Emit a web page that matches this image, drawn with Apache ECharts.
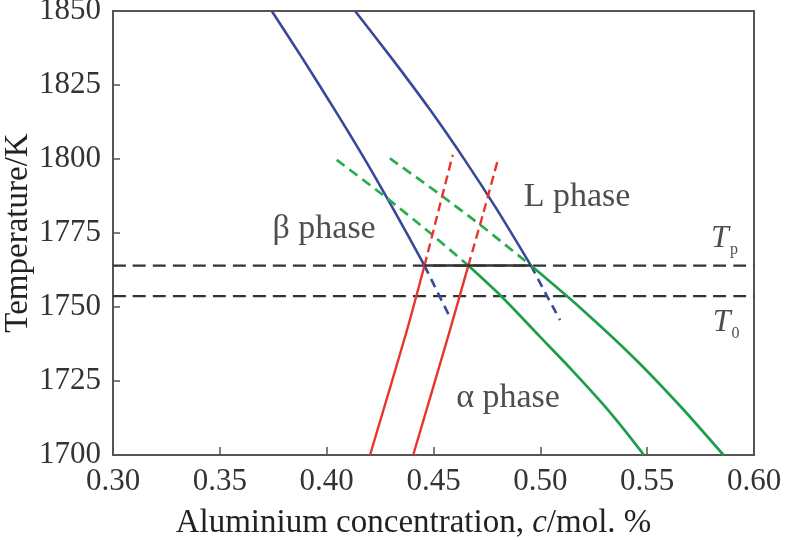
<!DOCTYPE html>
<html><head><meta charset="utf-8">
<script src="https://cdn.jsdelivr.net/npm/echarts@6/dist/echarts.min.js"></script>
<style>html,body{margin:0;padding:0;background:#fff}#c{width:786px;height:540px}</style>
</head><body><div id="c"></div>
<script>
// axis ranges / ticks
const xMin = 0.30, xMax = 0.60, xStep = 0.05;
const yMin = 1700, yMax = 1850, yStep = 25;
// isotherms
const Tp = 1764, T0 = 1753.7;
const tieLine = [[0.4458, 1764], [0.4956, 1764]];
// beta phase boundary (blue, left)
const betaSolid = [[0.3743,1850],[0.3892,1833.4],[0.4038,1816.6],[0.4180,1799.7],[0.4314,1782.8],[0.4458,1764]];
const betaDash = [[0.4458,1764],[0.4521,1754.7],[0.4582,1745.8]];
// liquidus (blue, right)
const liqSolid = [[0.4133,1850],[0.4311,1833.4],[0.4484,1816.6],[0.4646,1799.7],[0.4798,1782.8],[0.4956,1764]];
const liqDash = [[0.4956,1764],[0.5024,1754.7],[0.5092,1745.6]];
// green lower
const gLowDash = [[0.4047,1799.7],[0.4264,1787.8],[0.4486,1774.9],[0.4663,1764]];
const gLowSolid = [[0.4663,1764],[0.4816,1753.7],[0.4998,1740],[0.5148,1728.7],[0.5289,1717.5],[0.5394,1708.4],[0.5485,1700]];
// green upper
const gUpDash = [[0.4296,1800.2],[0.4523,1788.4],[0.4739,1776.6],[0.4956,1764]];
const gUpSolid = [[0.4956,1764],[0.5189,1749.6],[0.5440,1732.7],[0.5664,1715.8],[0.5857,1700]];
// red left
const rLeftSolid = [[0.4203,1700],[0.4376,1742.2],[0.4458,1764]];
const rLeftDash = [[0.4458,1764],[0.4544,1788.4],[0.4590,1801.4]];
// red right
const rRightSolid = [[0.4405,1700],[0.4577,1742.2],[0.4663,1764]];
const rRightDash = [[0.4663,1764],[0.4733,1781.7],[0.4803,1800.2]];
// annotations
const phaseNames = ['β phase', 'L phase', 'α phase'];
const phaseAt = [[0.3988,1776.4],[0.5172,1787.2],[0.4849,1719.1]];
const isoNames = ['{t|T}{s|p}', '{t|T}{s|0}'];
const isoAt = [[0.5862,1773.0],[0.5870,1744.6]];

const FONT = '"Liberation Serif","Times New Roman",serif';
const BLUE = '#3a4899', RED = '#e8352b', GREEN = '#1e9e4a', GREEN_D = '#27ad4c';

function ln(data, color, dash, width, z) {
  return {type:'line', data, symbol:'none', smooth:0.25, silent:true, z: z||2,
    lineStyle:{color, width: width||2.5, type: dash || 'solid', cap:'butt'}};
}

const chart = echarts.init(document.getElementById('c'), null, {renderer:'canvas'});
chart.setOption({
  animation:false,
  backgroundColor:'#fff',
  grid:{left:113, right:32, top:11, bottom:85, containLabel:false, outerBoundsMode:'none',
    show:true, borderColor:'#555', borderWidth:2},
  xAxis:{type:'value', min:xMin, max:xMax, interval:xStep,
    name:'{n|Aluminium concentration, }{i|c}{n|/mol. %}', nameLocation:'middle', nameGap:52,
    nameMoveOverlap:false,
    nameTextStyle:{padding:[0,40,0,0], rich:{n:{fontFamily:FONT, fontSize:33, color:'#222'}, i:{fontFamily:FONT, fontSize:33, fontStyle:'italic', color:'#222'}}},
    axisLine:{lineStyle:{color:'#555', width:2}},
    axisTick:{inside:true, length:8, lineStyle:{color:'#555', width:1.5}},
    axisLabel:{margin:11, fontFamily:FONT, fontSize:31, color:'#333', formatter:v=>v.toFixed(2)},
    splitLine:{show:false}},
  yAxis:{type:'value', min:yMin, max:yMax, interval:yStep,
    name:'Temperature/K', nameLocation:'middle', nameGap:78,
    nameMoveOverlap:false,
    nameTextStyle:{fontFamily:FONT, fontSize:33, color:'#222'},
    axisLine:{lineStyle:{color:'#555', width:2}},
    axisTick:{inside:true, length:7, lineStyle:{color:'#555', width:1.5}},
    axisLabel:{margin:12, fontFamily:FONT, fontSize:31, color:'#333', formatter:v=>String(v)},
    splitLine:{show:false}},
  series:[
    ln([[xMin,Tp],[xMax,Tp]], '#333', [13,7], 2.2, 1),
    ln([[xMin,T0],[xMax,T0]], '#333', [13,7], 2.2, 1),
    ln(betaSolid, BLUE, null, 2.6),
    ln(betaDash, BLUE, [9,6], 2.6),
    ln(liqSolid, BLUE, null, 2.6),
    ln(liqDash, BLUE, [9,6], 2.6),
    ln(gLowDash, GREEN_D, [10,6], 2.7),
    ln(gLowSolid, GREEN, null, 2.7),
    ln(gUpDash, GREEN_D, [10,6], 2.7),
    ln(gUpSolid, GREEN, null, 2.7),
    ln(rLeftSolid, RED, null, 2.4),
    ln(rLeftDash, RED, [9,5], 2.4),
    ln(rRightSolid, RED, null, 2.4),
    ln(rRightDash, RED, [9,5], 2.4),
    ln(tieLine, '#333', null, 2.6, 3),
    {type:'scatter', symbolSize:0, silent:true, z:5,
      data: phaseNames.map((n,i)=>({value:phaseAt[i], name:n})),
      label:{show:true, position:'inside', formatter:p=>p.name, fontFamily:FONT, fontSize:34, color:'#222'}},
    {type:'scatter', symbolSize:0, silent:true, z:5,
      data: isoNames.map((n,i)=>({value:isoAt[i], name:n})),
      label:{show:true, position:'inside', formatter:p=>p.name,
        rich:{t:{fontFamily:FONT, fontSize:32, fontStyle:'italic', color:'#222', verticalAlign:'bottom'},
              s:{fontFamily:FONT, fontSize:16, color:'#222', verticalAlign:'bottom', padding:[0,0,-3,1]}}}}
  ]
});
</script>
</body></html>
